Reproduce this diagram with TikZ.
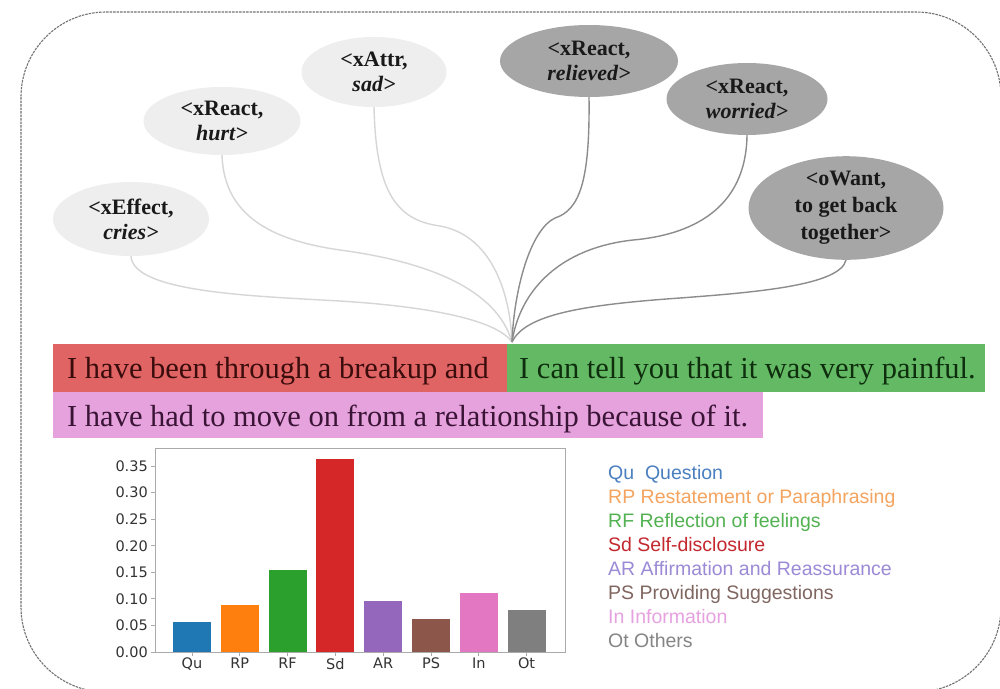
\documentclass[tikz,border=0pt]{standalone}
\usepackage{fontspec}
\setmainfont{Liberation Serif}
\newfontfamily\legfont{Liberation Sans}
\newfontfamily\mplfont{DejaVu Sans}
\usetikzlibrary{shapes.geometric}
\definecolor{lightE}{HTML}{EEEEEE}
\definecolor{darkE}{HTML}{A6A6A6}
\definecolor{lconnC}{HTML}{D6D6D6}
\definecolor{dconnC}{HTML}{8C8C8C}
\definecolor{redbox}{HTML}{E06464}
\definecolor{greenbox}{HTML}{64BA64}
\definecolor{pinkbox}{HTML}{E6A2DC}
\definecolor{redtxt}{HTML}{3A0C0C}
\definecolor{greentxt}{HTML}{0E2E0E}
\definecolor{pinktxt}{HTML}{3A1436}
\definecolor{axgray}{HTML}{AAAAAA}
\definecolor{tabblue}{HTML}{1F77B4}
\definecolor{taborange}{HTML}{FF7F0E}
\definecolor{tabgreen}{HTML}{2CA02C}
\definecolor{tabred}{HTML}{D62728}
\definecolor{tabpurple}{HTML}{9467BD}
\definecolor{tabbrown}{HTML}{8C564B}
\definecolor{tabpink}{HTML}{E377C2}
\definecolor{tabgray}{HTML}{7F7F7F}
\definecolor{lgQu}{HTML}{4A7FC0}
\definecolor{lgRP}{HTML}{F4A45E}
\definecolor{lgRF}{HTML}{52B252}
\definecolor{lgSd}{HTML}{C4282F}
\definecolor{lgAR}{HTML}{9C8AD6}
\definecolor{lgPS}{HTML}{806660}
\definecolor{lgIn}{HTML}{E6A2E0}
\definecolor{lgOt}{HTML}{858585}
\begin{document}
\begin{tikzpicture}[x=1pt,y=-1pt,
  ellbase/.style={ellipse, inner sep=0pt, align=center, text=black!90,
    font=\fontsize{22}{25}\selectfont\bfseries},
  lightell/.style={ellbase, fill=lightE},
  darkell/.style={ellbase, fill=darkE},
  lconn/.style={draw=lconnC, line width=1.4pt},
  dconn/.style={draw=dconnC, line width=1.4pt},
  sentbox/.style={anchor=north west, inner sep=0pt, minimum height=48pt},
  senttxt/.style={anchor=base west, inner sep=0pt, font=\fontsize{30.5}{36}\selectfont},
  ticklab/.style={font=\mplfont\fontsize{14.5}{16}\selectfont, text=black!80, inner sep=0pt},
  legtxt/.style={anchor=base west, inner sep=0pt, font=\legfont\fontsize{19.5}{22}\selectfont}
]
\useasboundingbox (0,0) rectangle (1000,688);
\fill[white] (0,0) rectangle (1000,688);
% outer frame
\draw[draw=black!55, line width=1.1pt, dash pattern=on 2.5pt off 1pt, rounded corners=85pt]
  (21,12) rectangle (1001,692);

% ellipses
\node[lightell, minimum width=156pt, minimum height=74pt] (e1) at (131,219) {<xEffect,\\\textit{cries>}};
\node[lightell, minimum width=157pt, minimum height=68pt] (e2) at (222,121) {<xReact,\\\textit{hurt>}};
\node[lightell, minimum width=145pt, minimum height=70pt] (e3) at (374,72) {<xAttr,\\\textit{sad>}};
\node[darkell, minimum width=178pt, minimum height=72pt] (e4) at (589,61) {<xReact,\\\textit{relieved>}};
\node[darkell, minimum width=161pt, minimum height=72pt] (e5) at (747,99) {<xReact,\\\textit{worried>}};
\node[darkell, minimum width=195pt, minimum height=95pt, font=\fontsize{22}{27}\selectfont\bfseries] (e6) at (846,208) {<oWant,\\to get back\\together>};

\coordinate (hub) at (512,342);

% connectors
\draw[lconn] (e1.south) .. controls (133,292) and (250,296) .. (340,301) .. controls (420,306) and (495,318) .. (hub);
\draw[lconn] (e2.south) .. controls (224,215) and (270,240) .. (340,250) .. controls (430,262) and (497,290) .. (hub);
\draw[lconn] (e3.south) .. controls (376,190) and (395,220) .. (440,226) .. controls (490,235) and (510,290) .. (hub);
\draw[dconn] (e4.south) .. controls (590,180) and (580,210) .. (555,218) .. controls (530,230) and (514,290) .. (hub);
\draw[dconn] (e5.south) .. controls (746,210) and (690,235) .. (633,240) .. controls (560,248) and (520,290) .. (hub);
\draw[dconn] (e6.south) .. controls (840,285) and (760,292) .. (680,298) .. controls (580,305) and (525,315) .. (hub);

% sentence boxes
\node[sentbox, fill=redbox, minimum width=454pt] (s1) at (53,344) {};
\node[sentbox, fill=greenbox, minimum width=478pt] (s2) at (507,344) {};
\node[sentbox, fill=pinkbox, minimum width=710pt, minimum height=46pt] (s3) at (53,392) {};
\node[senttxt, text=redtxt] (t1) at (67,378) {I have been through a breakup and};
\node[senttxt, text=greentxt] (t2) at (519,378) {I can tell you that it was very painful.};
\node[senttxt, text=pinktxt] (t3) at (67,426) {I have had to move on from a relationship because of it.};

% bar chart
\foreach \i/\v/\c in {0/0.057/tabblue,1/0.088/taborange,2/0.154/tabgreen,3/0.363/tabred,4/0.096/tabpurple,5/0.062/tabbrown,6/0.111/tabpink,7/0.079/tabgray}{
  \fill[\c] ({192+47.8*\i-19},652) rectangle ({192+47.8*\i+19},{652-\v*531.4});
}
\node[draw=axgray, line width=0.9pt, anchor=north west, inner sep=0pt, minimum width=410pt, minimum height=204pt] (ax) at (155,448) {};
\foreach \k/\l in {0/0.00,1/0.05,2/0.10,3/0.15,4/0.20,5/0.25,6/0.30,7/0.35}{
  \draw[axgray, line width=0.8pt] (155,{652-\k*26.57}) -- (151,{652-\k*26.57});
  \node[ticklab, anchor=east] at (148,{652-\k*26.57}) {\l};
}
\foreach \i/\l in {0/Qu,1/RP,2/RF,3/Sd,4/AR,5/PS,6/In,7/Ot}{
  \draw[axgray, line width=0.8pt] ({192+47.8*\i},652) -- ({192+47.8*\i},656);
  \node[ticklab, anchor=north] at ({192+47.8*\i},658) {\l};
}

% legend
\node[legtxt, text=lgQu] (l1) at (608,479) {Qu\ \ Question};
\node[legtxt, text=lgRP] (l2) at (608,503) {RP Restatement or Paraphrasing};
\node[legtxt, text=lgRF] (l3) at (608,527) {RF Reflection of feelings};
\node[legtxt, text=lgSd] (l4) at (608,551) {Sd Self-disclosure};
\node[legtxt, text=lgAR] (l5) at (608,575) {AR Affirmation and Reassurance};
\node[legtxt, text=lgPS] (l6) at (608,599) {PS Providing Suggestions};
\node[legtxt, text=lgIn] (l7) at (608,623) {In Information};
\node[legtxt, text=lgOt] (l8) at (608,647) {Ot Others};
\end{tikzpicture}
\end{document}
